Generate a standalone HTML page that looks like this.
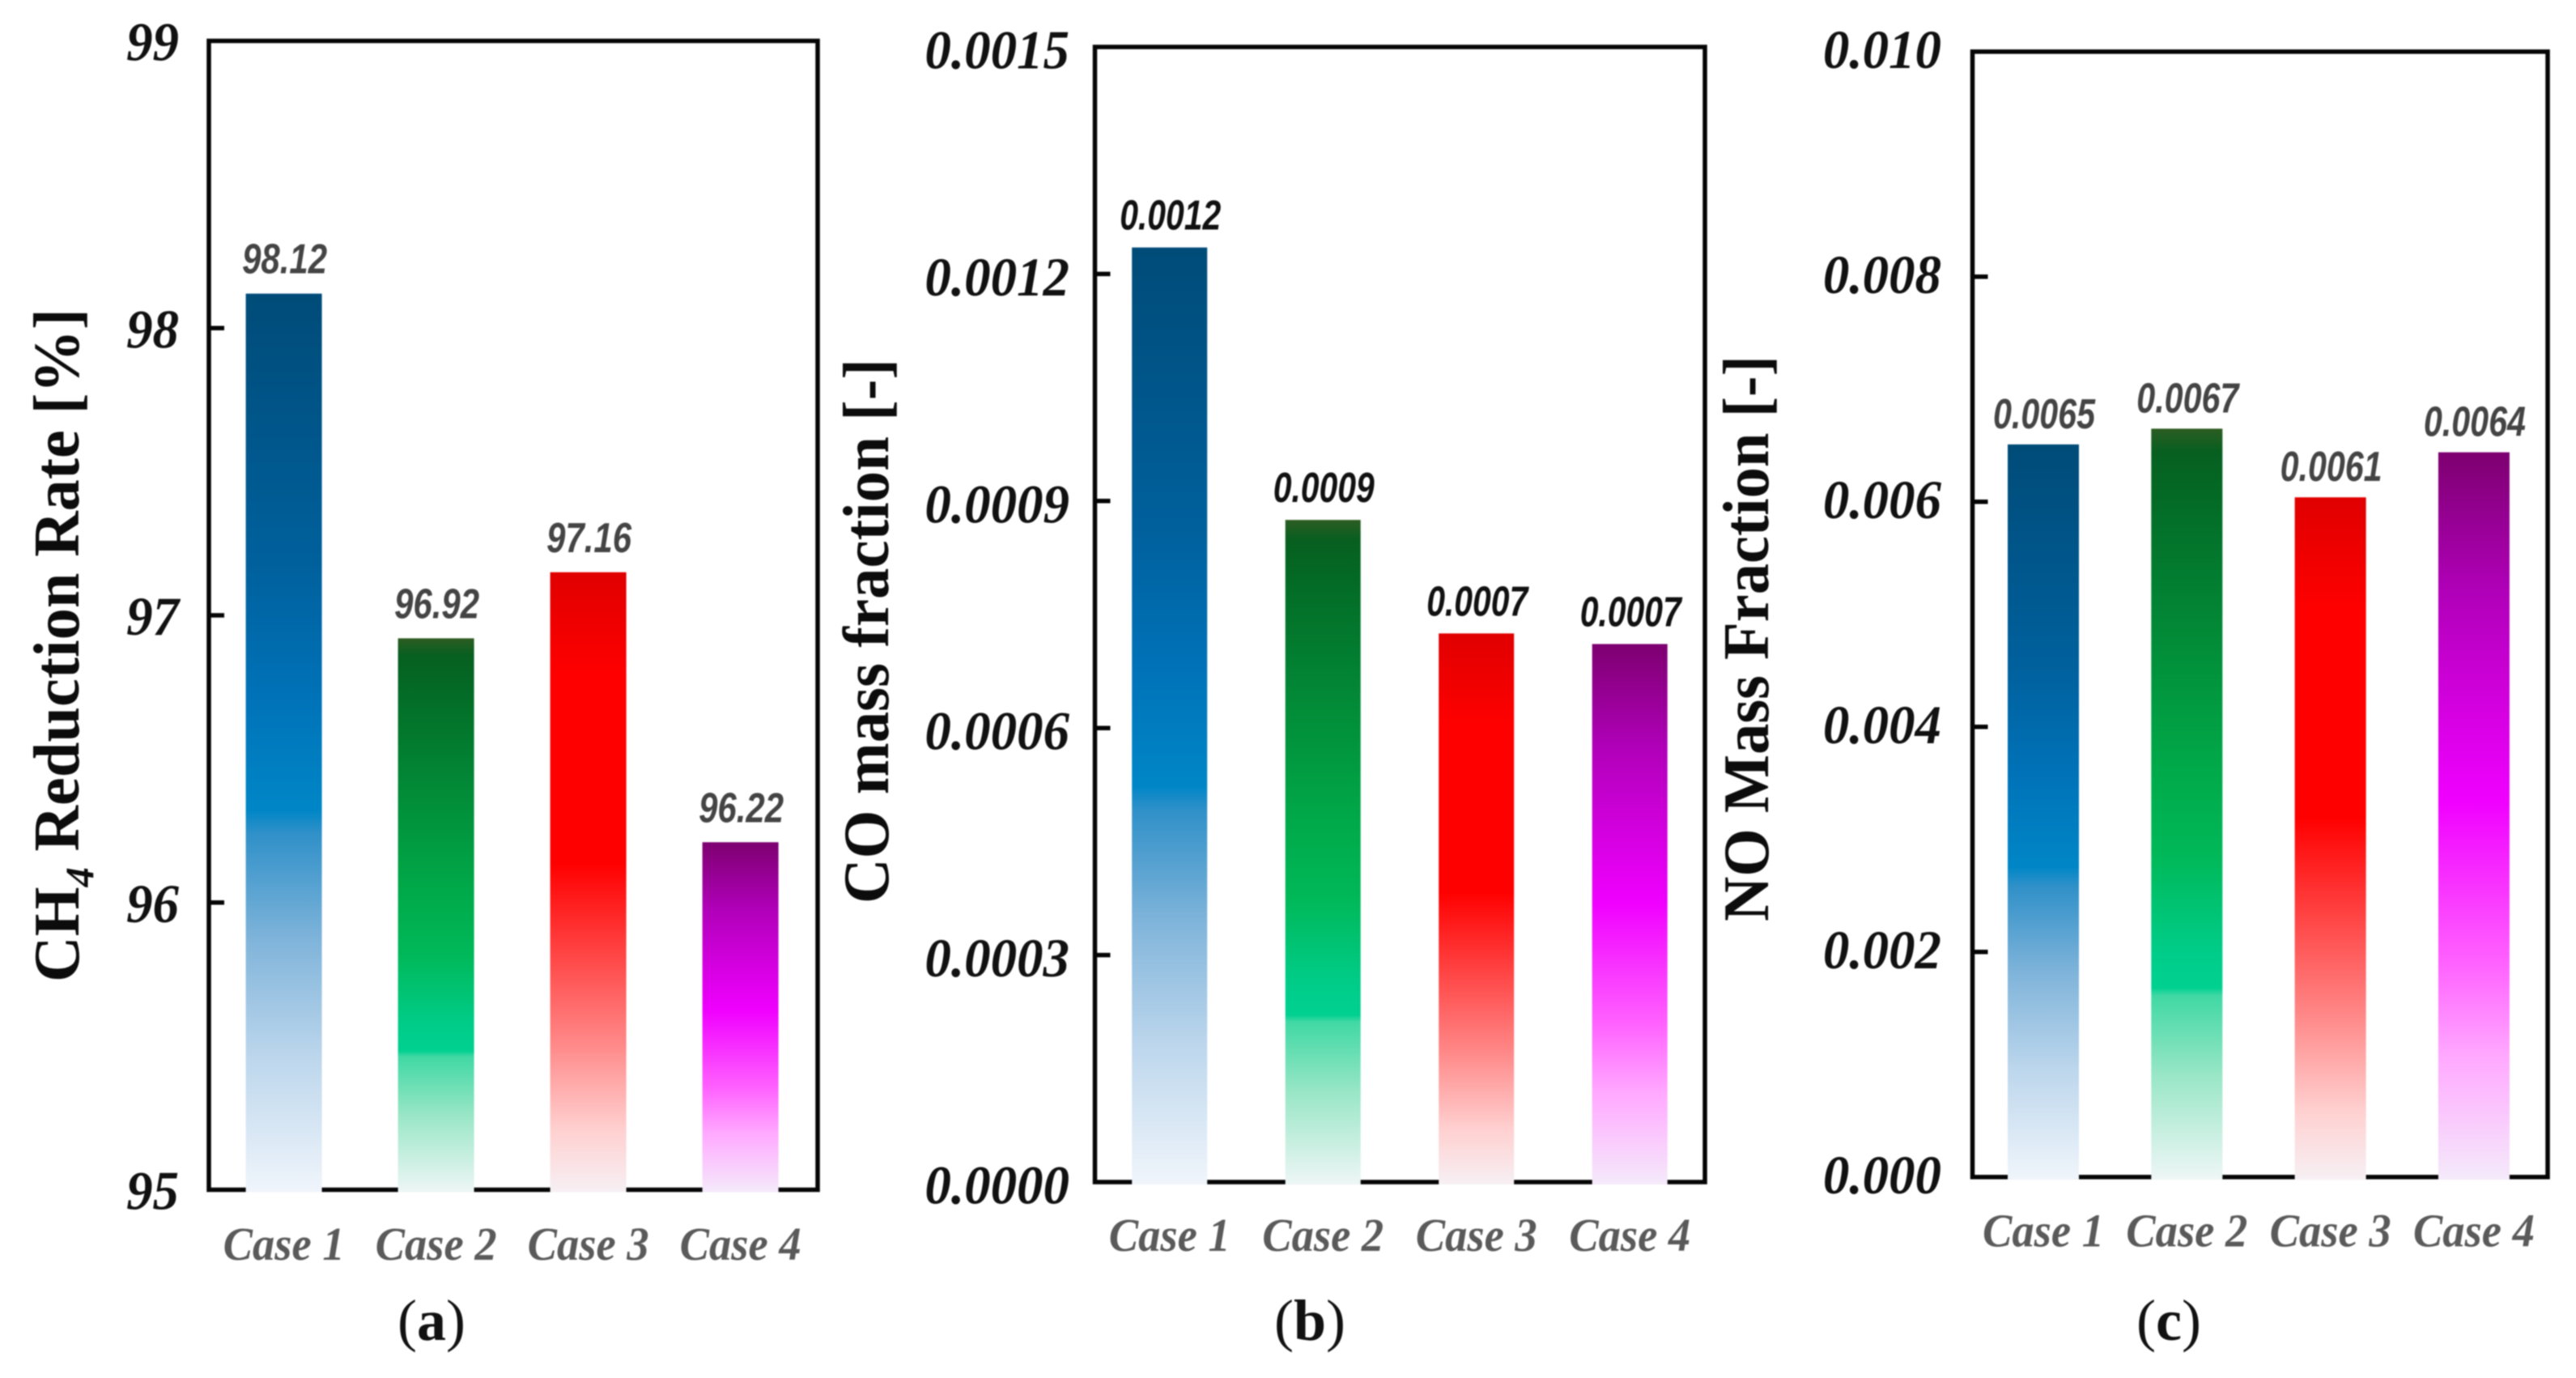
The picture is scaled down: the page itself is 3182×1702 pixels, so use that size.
<!DOCTYPE html>
<html lang="en">
<head>
<meta charset="utf-8">
<title>CH4 reduction rate, CO and NO mass fraction by case</title>
<style>
  html, body { margin: 0; padding: 0; background: #fff; }
  svg { display: block; filter: blur(0.7px); }
  text { font-family: "Liberation Serif", serif; }
  .tick { font-size: 68px; font-weight: bold; font-style: italic; fill: #111; text-anchor: end; }
  .case { font-size: 58px; font-weight: bold; font-style: italic; fill: #5a5a5a; text-anchor: middle; }
  .val { font-family: "Liberation Sans", sans-serif; font-size: 52px; font-weight: bold; font-style: italic; text-anchor: middle; }
  .ytitle { font-size: 81px; font-weight: bold; fill: #0c0c0c; }
  .cap { font-size: 72px; fill: #111; text-anchor: middle; }
  .cap tspan { font-weight: bold; }
</style>
</head>
<body>
<svg id="figure" xmlns="http://www.w3.org/2000/svg" width="3182" height="1702" viewBox="0 0 3182 1702">
  <defs>
    <linearGradient id="grad-blue" x1="0" y1="0" x2="0" y2="1">
      <stop offset="0" stop-color="#004b78"/>
      <stop offset="0.3" stop-color="#00609c"/>
      <stop offset="0.45" stop-color="#0072b8"/>
      <stop offset="0.575" stop-color="#0086c6"/>
      <stop offset="0.6" stop-color="#2f90c8"/>
      <stop offset="0.72" stop-color="#80b4da"/>
      <stop offset="0.85" stop-color="#bcd6ec"/>
      <stop offset="1" stop-color="#f0f5fb"/>
    </linearGradient>
    <linearGradient id="grad-green" x1="0" y1="0" x2="0" y2="1">
      <stop offset="0" stop-color="#2d5c22"/>
      <stop offset="0.03" stop-color="#075f20"/>
      <stop offset="0.09" stop-color="#036a25"/>
      <stop offset="0.447" stop-color="#00a848"/>
      <stop offset="0.568" stop-color="#00b858"/>
      <stop offset="0.695" stop-color="#00cc88"/>
      <stop offset="0.745" stop-color="#00d090"/>
      <stop offset="0.755" stop-color="#40d8a4"/>
      <stop offset="0.86" stop-color="#98e6c6"/>
      <stop offset="1" stop-color="#eef6f6"/>
    </linearGradient>
    <linearGradient id="grad-red" x1="0" y1="0" x2="0" y2="1">
      <stop offset="0" stop-color="#e00000"/>
      <stop offset="0.17" stop-color="#ff0000"/>
      <stop offset="0.47" stop-color="#ff0000"/>
      <stop offset="0.615" stop-color="#ff4444"/>
      <stop offset="0.76" stop-color="#ff8888"/>
      <stop offset="0.9" stop-color="#ffd0d0"/>
      <stop offset="1" stop-color="#f6f0f4"/>
    </linearGradient>
    <linearGradient id="grad-purple" x1="0" y1="0" x2="0" y2="1">
      <stop offset="0" stop-color="#7d0070"/>
      <stop offset="0.19" stop-color="#b000b8"/>
      <stop offset="0.48" stop-color="#f000ff"/>
      <stop offset="0.7" stop-color="#ff60ff"/>
      <stop offset="0.83" stop-color="#ffa8ff"/>
      <stop offset="1" stop-color="#f4eafa"/>
    </linearGradient>
  </defs>

  <text class="ytitle" transform="translate(97,1213) rotate(-90)" textLength="832" lengthAdjust="spacingAndGlyphs">CH<tspan font-size="50" font-style="italic" dy="18">4</tspan><tspan dy="-18"> Reduction Rate [%]</tspan></text>
  <text class="ytitle" transform="translate(1097,1116) rotate(-90)" textLength="673" lengthAdjust="spacingAndGlyphs">CO mass fraction [-]</text>
  <text class="ytitle" transform="translate(2184,1138) rotate(-90)" textLength="699" lengthAdjust="spacingAndGlyphs">NO Mass Fraction [-]</text>

  <text class="cap" x="533" y="1655">(<tspan>a</tspan>)</text>
  <text class="cap" x="1618" y="1655">(<tspan>b</tspan>)</text>
  <text class="cap" x="2679" y="1655">(<tspan>c</tspan>)</text>
</svg>

<script>
// Chart data
const categories = ["Case 1", "Case 2", "Case 3", "Case 4"];

const ch4Values = [98.12, 96.92, 97.15, 96.21];
const ch4Printed = ["98.12", "96.92", "97.16", "96.22"];
const ch4Ticks = [95, 96, 97, 98, 99];
const ch4TickLabels = ["95", "96", "97", "98", "99"];

const coValues = [0.001235, 0.000875, 0.000725, 0.000711];
const coPrinted = ["0.0012", "0.0009", "0.0007", "0.0007"];
const coTicks = [0, 0.0003, 0.0006, 0.0009, 0.0012, 0.0015];
const coTickLabels = ["0.0000", "0.0003", "0.0006", "0.0009", "0.0012", "0.0015"];

const noValues = [0.00651, 0.00665, 0.00604, 0.00644];
const noPrinted = ["0.0065", "0.0067", "0.0061", "0.0064"];
const noTicks = [0, 0.002, 0.004, 0.006, 0.008, 0.01];
const noTickLabels = ["0.000", "0.002", "0.004", "0.006", "0.008", "0.010"];

const gradients = ["grad-blue", "grad-green", "grad-red", "grad-purple"];

const SVG_NS = "http://www.w3.org/2000/svg";
const fig = document.getElementById("figure");

function make(tag, props, text) {
  const el = document.createElementNS(SVG_NS, tag);
  for (const k in props) el.setAttribute(k, props[k]);
  if (text !== undefined) el.textContent = text;
  fig.appendChild(el);
  return el;
}

function drawPanel(p) {
  const yScale = v => p.bottom - (v - p.min) / (p.max - p.min) * (p.bottom - p.top);
  const xScale = i => p.x0 + i * p.step;

  // Frame
  const frame = make("rect", { x: p.left, y: p.top, width: p.right - p.left, height: p.bottom - p.top, fill: "#fff", stroke: "#050505", "stroke-width": 5.5 });
  
  

  // Y ticks
  p.ticks.forEach((t, i) => {
    const y = yScale(t);
    if (i > 0 && i < p.ticks.length - 1) {
      const mark = make("line", { x1: p.left, x2: p.left + 19, y1: y, y2: y, stroke: "#050505", "stroke-width": 5.5 });
      
      
    }
    const label = make("text", { class: "tick", x: p.tickX, y: y + p.tickDy }, p.tickLabels[i]);
    
    
    label.setAttribute("textLength", (label.getComputedTextLength() * 0.955).toFixed(1));
    label.setAttribute("lengthAdjust", "spacingAndGlyphs");
  });

  // Bars, value labels, category labels
  p.values.forEach((v, i) => {
    const cx = xScale(i);
    const top = yScale(v);
    const bar = make("rect", { x: cx - p.barW / 2, y: top, width: p.barW, height: p.bottom - top + 3, fill: "url(#" + gradients[i] + ")" });
    
    

    const val = make("text", { class: "val", x: cx + 1, y: top + p.valDy, fill: p.valColor, textLength: p.valW, lengthAdjust: "spacingAndGlyphs" }, p.printed[i]);
    
    

    const cat = make("text", { class: "case", x: cx, y: p.caseY, textLength: 150, lengthAdjust: "spacingAndGlyphs" }, categories[i]);
    
    
  });
}

drawPanel({
  id: "ch4-panel", min: 95, max: 99,
  left: 258, right: 1010, top: 50.5, bottom: 1469.5,
  x0: 350.6, step: 188, barW: 94,
  tickX: 221, tickDy: 24, valDy: -25, valW: 105, valColor: "#444", caseY: 1556,
  values: ch4Values, printed: ch4Printed, ticks: ch4Ticks, tickLabels: ch4TickLabels
});

drawPanel({
  id: "co-panel", min: 0, max: 0.0015,
  left: 1352.5, right: 2106, top: 58, bottom: 1460,
  x0: 1444.7, step: 189.5, barW: 93,
  tickX: 1321, tickDy: 26.5, valDy: -22, valW: 125, valColor: "#111", caseY: 1545,
  values: coValues, printed: coPrinted, ticks: coTicks, tickLabels: coTickLabels
});

drawPanel({
  id: "no-panel", min: 0, max: 0.01,
  left: 2436.5, right: 3147, top: 63.8, bottom: 1453.8,
  x0: 2524, step: 177.3, barW: 88,
  tickX: 2398, tickDy: 20, valDy: -20, valW: 126, valColor: "#444", caseY: 1539.5,
  values: noValues, printed: noPrinted, ticks: noTicks, tickLabels: noTickLabels
});
</script>
</body>
</html>
